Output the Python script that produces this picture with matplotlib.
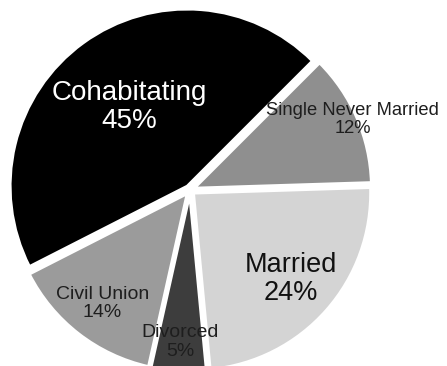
import numpy as np
import matplotlib
matplotlib.use("Agg")
import matplotlib.pyplot as plt

# Relationship status shares (%), drawn counter-clockwise from the top-right
categories = ["Cohabitating", "Civil Union", "Divorced", "Married", "Single Never Married"]
shares = [45, 14, 5, 24, 12]
colors = ["#000000", "#9b9b9b", "#3d3d3d", "#d4d4d4", "#8f8f8f"]
text_colors = ["white", "#1e1e1e", "#1e1e1e", "#111111", "#1e1e1e"]
label_sizes = [20, 14, 14, 19.5, 13.2]
label_radius = [0.58, 0.81, 0.86, 0.76, 1.0]

plt.rcParams["font.family"] = ["Liberation Sans", "DejaVu Sans"]

fig = plt.figure(figsize=(4.47, 3.66), dpi=100)
ax = fig.add_axes([0, 0, 1, 1])

wedges, _ = ax.pie(
    shares,
    colors=colors,
    startangle=45,
    counterclock=True,
    explode=[0.027] * len(shares),
    wedgeprops=dict(edgecolor="white", linewidth=2),
)

# name + percentage centred along each wedge's bisector
for w, name, val, tc, fs, rr in zip(wedges, categories, shares, text_colors,
                                    label_sizes, label_radius):
    mid = np.deg2rad((w.theta1 + w.theta2) / 2)
    ax.text(rr * np.cos(mid), rr * np.sin(mid), f"{name}\n{val}%",
            ha="center", va="center", color=tc, fontsize=fs,
            linespacing=1.1)

# pixel scale: 177 px per unit radius, pie centre at (190, 190) from top-left
scale = 177.0
ax.set_aspect("auto")
ax.set_xlim(-190 / scale, (447 - 190) / scale)
ax.set_ylim(-(366 - 190) / scale, 190 / scale)
ax.axis("off")

fig.savefig("out.png", dpi=100)
